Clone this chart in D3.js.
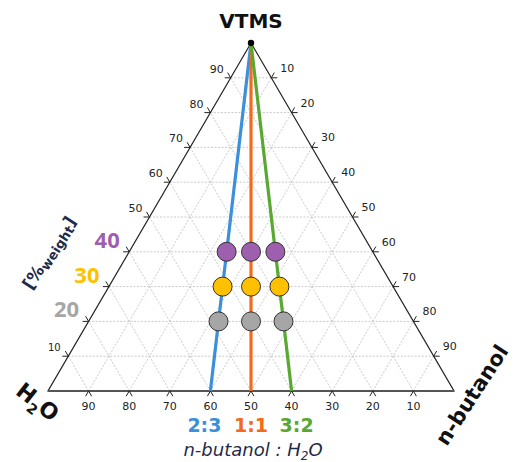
<!DOCTYPE html>
<html>
<head>
<meta charset="utf-8">
<script src="https://cdn.jsdelivr.net/npm/d3@7"></script>
<style>
  body { margin: 0; background: #fff; }
  text { font-family: "DejaVu Sans", Arial, sans-serif; }
</style>
</head>
<body>
<div id="viz"></div>
<script>
// ---- data ----
const tickValues = [10, 20, 30, 40, 50, 60, 70, 80, 90]
const vtmsLevels = [20, 30, 40]
const levelColors = ['#a6a6a6', '#ffc000', '#9d5fae']
const ratioLabels = ['2:3', '1:1', '3:2']
const butanolShare = [40, 50, 60]   // % of n-butanol in the n-butanol + H2O part
const ratioColors = ['#3c8fdb', '#f26a1b', '#58a831']

let width = 517,
    height = 462;

let svg = d3.select('#viz')
            .append('svg')
            .attr('width', width)
            .attr('height', height)

// scales: x runs along the base, y goes up with VTMS
let xScale = d3.scaleLinear().domain([0, 100]).range([48, 454])
let yScale = d3.scaleLinear().domain([0, 100]).range([391, 43])

// ternary point -> pixel (vtms, h2o, butanol)
const pos = (v, w, b) => [xScale(b + v / 2), yScale(v)]

// grid
let grid = []
tickValues.forEach(k => {
  grid.push([pos(k, 100 - k, 0), pos(k, 0, 100 - k)])
  grid.push([pos(0, k, 100 - k), pos(100 - k, k, 0)])
  grid.push([pos(0, 100 - k, k), pos(100 - k, 0, k)])
})
svg.append('g').selectAll('line')
   .data(grid)
   .enter()
     .append('line')
     .attr('x1', d => d[0][0]).attr('y1', d => d[0][1])
     .attr('x2', d => d[1][0]).attr('y2', d => d[1][1])
     .style('stroke', '#c4c4c4')
     .style('stroke-width', 0.9)
     .style('stroke-dasharray', '2,1.5')

// outline
let corners = [pos(100, 0, 0), pos(0, 100, 0), pos(0, 0, 100)]
svg.append('path')
   .attr('d', d3.line()(corners) + 'Z')
   .style('fill', 'none')
   .style('stroke', '#222')
   .style('stroke-width', 1.2)
svg.append('line')
   .attr('x1', corners[1][0]).attr('y1', corners[1][1])
   .attr('x2', corners[2][0]).attr('y2', corners[2][1])
   .style('stroke', '#555')
   .style('stroke-width', 1.8)

// ticks (small chevrons following the grid directions) and labels
const L = 6
const c60 = 0.5, s60 = Math.sqrt(3) / 2
let ticks = svg.append('g').style('stroke', '#222').style('stroke-width', 1)
let labels = svg.append('g').style('font-size', '11px').style('fill', '#222').attr('text-anchor', 'middle')

tickValues.forEach(k => {
  // base: H2O %
  let p = pos(0, k, 100 - k)
  ticks.append('path').attr('d', `M${p[0] - L * c60},${p[1] + L * s60}L${p[0]},${p[1]}L${p[0] + L * c60},${p[1] + L * s60}`).style('fill', 'none')
  labels.append('text').attr('x', p[0]).attr('y', p[1] + 19).text(k)

  // left: VTMS %
  p = pos(k, 100 - k, 0)
  ticks.append('path').attr('d', `M${p[0] - L},${p[1]}L${p[0]},${p[1]}L${p[0] - L * c60},${p[1] - L * s60}`).style('fill', 'none')
  let i = vtmsLevels.indexOf(k)
  if (i >= 0) {
    svg.append('text')
       .attr('x', p[0] - 22).attr('y', p[1] - 4)
       .attr('text-anchor', 'middle')
       .style('font-family', '"Open Sans", sans-serif')
       .style('font-size', '22px')
       .style('font-weight', 'bold')
       .style('fill', levelColors[i])
       .text(k)
  } else {
    labels.append('text').attr('x', p[0] - 14).attr('y', p[1] - 5)
          .style('font-size', k === 10 ? '10px' : '11px').text(k)
  }

  // right: n-butanol %
  p = pos(100 - k, 0, k)
  ticks.append('path').attr('d', `M${p[0] + L},${p[1]}L${p[0]},${p[1]}L${p[0] + L * c60},${p[1] - L * s60}`).style('fill', 'none')
  labels.append('text').attr('x', p[0] + 16).attr('y', p[1] - 6).text(k)
})

// ratio lines from the VTMS corner
svg.append('g').selectAll('line')
   .data(butanolShare)
   .enter()
     .append('line')
     .attr('x1', pos(100, 0, 0)[0]).attr('y1', pos(100, 0, 0)[1])
     .attr('x2', d => pos(0, 100 - d, d)[0])
     .attr('y2', d => pos(0, 100 - d, d)[1])
     .style('stroke', (d, i) => ratioColors[i])
     .style('stroke-width', 3.2)

svg.append('circle')
   .attr('cx', pos(100, 0, 0)[0]).attr('cy', pos(100, 0, 0)[1])
   .attr('r', 3.2).style('fill', '#000')

// points
let points = []
butanolShare.forEach(s => {
  vtmsLevels.forEach((v, j) => {
    let b = (100 - v) * s / 100
    points.push({ v: v, b: b, w: 100 - v - b, c: levelColors[j] })
  })
})
svg.append('g').selectAll('circle')
   .data(points)
   .enter()
     .append('circle')
     .attr('cx', d => pos(d.v, d.w, d.b)[0])
     .attr('cy', d => pos(d.v, d.w, d.b)[1])
     .attr('r', 9.5)
     .style('fill', d => d.c)
     .style('stroke', '#333')
     .style('stroke-width', 1)

// ratio labels under the base
svg.append('g').selectAll('text')
   .data(ratioLabels)
   .enter()
     .append('text')
     .attr('x', (d, i) => pos(0, 100 - butanolShare[i], butanolShare[i])[0] + [-6, 0, 5][i])
     .attr('y', 432)
     .attr('text-anchor', 'middle')
     .style('font-size', '19px')
     .style('font-weight', 'bold')
     .style('fill', (d, i) => ratioColors[i])
     .text(d => d)

let sub = svg.append('text')
   .attr('x', 253).attr('y', 456)
   .attr('text-anchor', 'middle')
   .style('font-size', '18px')
   .style('font-style', 'italic')
   .style('fill', '#1e2b4a')
sub.append('tspan').text('n-butanol : H')
sub.append('tspan').attr('dy', 4).style('font-size', '12px').text('2')
sub.append('tspan').attr('dy', -4).text('O')

// corner labels
svg.append('text')
   .attr('x', 251).attr('y', 28)
   .attr('text-anchor', 'middle')
   .style('font-size', '20px').style('font-weight', 'bold').style('fill', '#111')
   .text('VTMS')

let h2o = svg.append('text')
   .attr('transform', 'translate(33,408) rotate(38)')
   .attr('text-anchor', 'middle')
   .style('font-size', '22px').style('font-weight', 'bold').style('fill', '#111')
h2o.append('tspan').text('H')
h2o.append('tspan').attr('dy', 6).style('font-size', '14px').text('2')
h2o.append('tspan').attr('dy', -6).text('O')

svg.append('text')
   .attr('transform', 'translate(478,399) rotate(-57)')
   .attr('text-anchor', 'middle')
   .style('font-size', '21px').style('font-weight', 'bold').style('fill', '#111')
   .text('n-butanol')

let unit = svg.append('text')
   .attr('transform', 'translate(54,256) rotate(-57)')
   .attr('text-anchor', 'middle')
   .style('font-size', '17px').style('font-weight', 'bold').style('fill', '#1e2b4a')
unit.append('tspan').text('[%')
unit.append('tspan').attr('dy', 3).style('font-size', '13px').text('weight')
unit.append('tspan').attr('dy', -3).text(']')
</script>
</body>
</html>
